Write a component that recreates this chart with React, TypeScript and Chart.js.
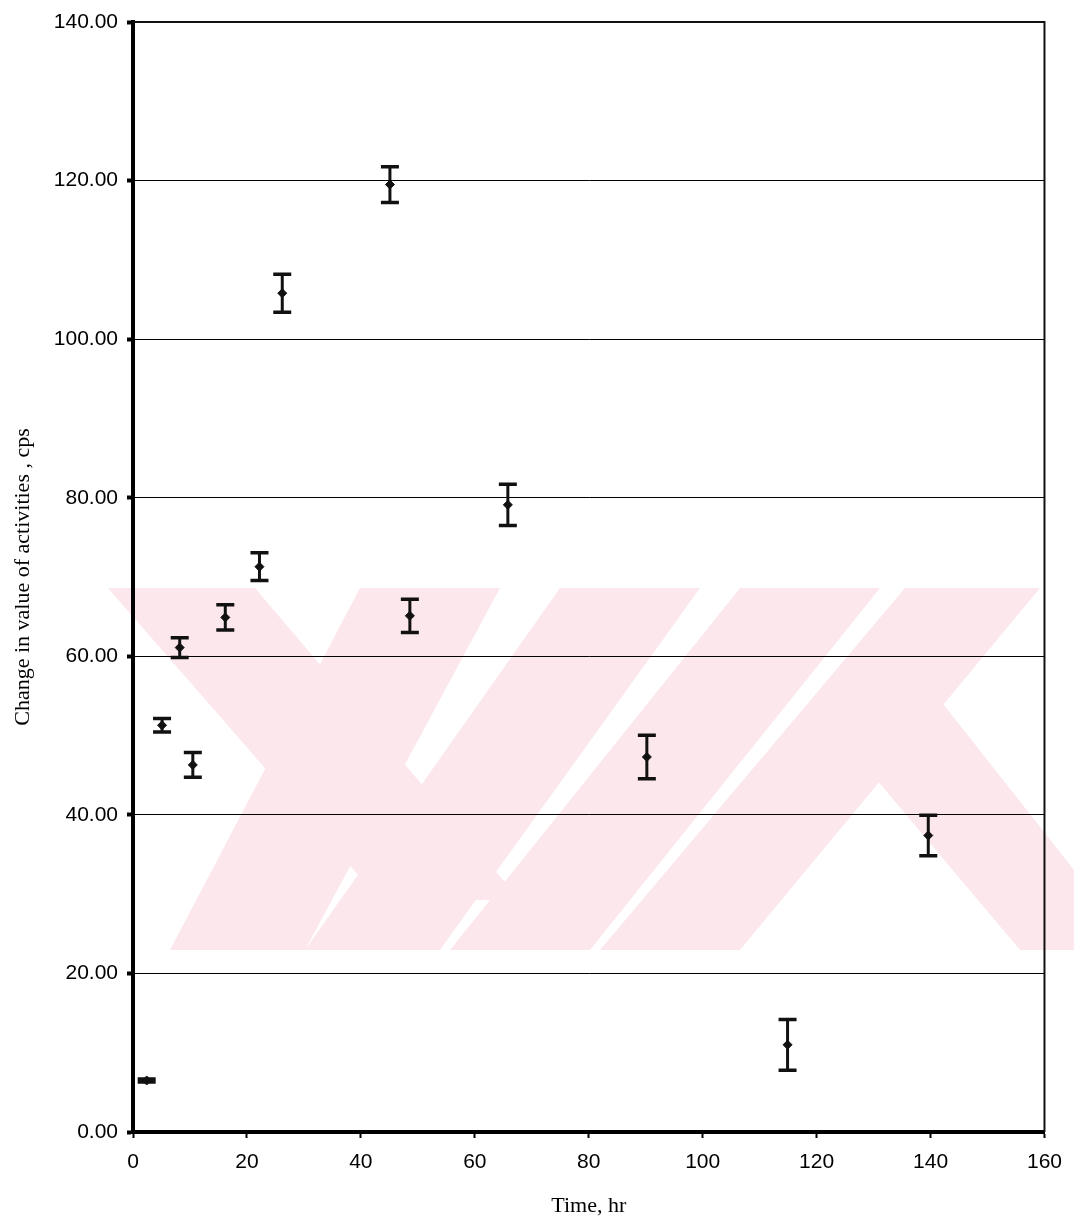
import React, { useEffect, useRef } from 'react';
import { Chart, registerables } from 'chart.js';

Chart.register(...registerables);

// Time (hr)
const timeHr = [2.4, 5.1, 8.2, 10.5, 16.2, 22.2, 26.2, 45.1, 48.6, 65.8, 90.2, 114.9, 139.6];
// Change in value of activities (cps)
const activity = [6.5, 51.3, 61.1, 46.3, 64.9, 71.3, 105.8, 119.5, 65.1, 79.1, 47.3, 11.0, 37.4];
// Error (+/-)
const activityErr = [0.2, 0.85, 1.25, 1.55, 1.6, 1.75, 2.4, 2.25, 2.1, 2.6, 2.75, 3.2, 2.55];

const xTicks = [0, 20, 40, 60, 80, 100, 120, 140, 160];
const yTicks = [0, 20, 40, 60, 80, 100, 120, 140];

const xTitle = 'Time, hr';
const yTitle = 'Change in value of activities , cps';

// decorative background watermark (canvas pixel polygons)
const watermarkPolys: number[][][] = [
  [[108, 588], [255, 588], [520, 900], [380, 900]],
  [[360, 588], [500, 588], [305, 950], [170, 950]],
  [[560, 588], [700, 588], [440, 950], [305, 950]],
  [[740, 588], [880, 588], [590, 950], [450, 950]],
  [[905, 588], [1040, 588], [740, 950], [600, 950]],
  [[860, 760], [940, 700], [1074, 870], [1074, 950], [1020, 950]],
];

export default function App() {
  const ref = useRef<HTMLCanvasElement | null>(null);

  useEffect(() => {
    if (!ref.current) return;

    const background = {
      id: 'background',
      beforeDraw(chart: any) {
        const ctx = chart.ctx;
        ctx.save();
        ctx.fillStyle = '#ffffff';
        ctx.fillRect(0, 0, chart.width, chart.height);
        ctx.fillStyle = '#fce8ec';
        for (const poly of watermarkPolys) {
          ctx.beginPath();
          poly.forEach((p, i) => (i === 0 ? ctx.moveTo(p[0], p[1]) : ctx.lineTo(p[0], p[1])));
          ctx.closePath();
          ctx.fill();
        }
        ctx.restore();
      },
    };

    const frame = {
      id: 'frame',
      afterDraw(chart: any) {
        const { ctx, chartArea } = chart;
        ctx.save();
        ctx.strokeStyle = '#111';
        ctx.lineWidth = 2;
        ctx.beginPath();
        ctx.moveTo(chartArea.left, chartArea.top);
        ctx.lineTo(chartArea.right, chartArea.top);
        ctx.lineTo(chartArea.right, chartArea.bottom);
        ctx.stroke();
        ctx.restore();
      },
    };

    const errorBars = {
      id: 'errorBars',
      beforeDatasetsDraw(chart: any) {
        const { ctx } = chart;
        const xs = chart.scales.x;
        const ys = chart.scales.y;
        ctx.save();
        ctx.strokeStyle = '#111';
        ctx.lineCap = 'butt';
        for (let i = 0; i < timeHr.length; i++) {
          const px = xs.getPixelForValue(timeHr[i]);
          const top = ys.getPixelForValue(activity[i] + activityErr[i]);
          const bot = ys.getPixelForValue(activity[i] - activityErr[i]);
          ctx.lineWidth = 3;
          ctx.beginPath();
          ctx.moveTo(px, top);
          ctx.lineTo(px, bot);
          ctx.stroke();
          ctx.lineWidth = 3.5;
          ctx.beginPath();
          ctx.moveTo(px - 9, top);
          ctx.lineTo(px + 9, top);
          ctx.moveTo(px - 9, bot);
          ctx.lineTo(px + 9, bot);
          ctx.stroke();
        }
        ctx.restore();
      },
    };

    const chart = new Chart(ref.current, {
      type: 'scatter',
      data: {
        datasets: [
          {
            data: timeHr.map((x, i) => ({ x, y: activity[i] })),
            pointStyle: 'rectRot',
            pointRadius: 4.5,
            backgroundColor: '#111',
            borderColor: '#111',
            borderWidth: 1,
          },
        ],
      },
      options: {
        animation: false,
        responsive: false,
        events: [],
        layout: { padding: { top: 22, right: 26, left: 0, bottom: 0 } },
        plugins: { legend: { display: false }, tooltip: { enabled: false } },
        scales: {
          x: {
            type: 'linear',
            min: 0,
            max: 160,
            afterBuildTicks: (s: any) => {
              s.ticks = xTicks.map((v) => ({ value: v }));
            },
            afterFit: (s: any) => {
              s.height = 91;
            },
            ticks: {
              color: '#000',
              font: { family: '"Liberation Sans", Arial, sans-serif', size: 21 },
              padding: 12,
              maxRotation: 0,
              callback: (v: any) => String(v),
            },
            grid: {
              drawOnChartArea: false,
              drawTicks: true,
              tickLength: 6,
              tickWidth: 2,
              tickColor: '#000',
            },
            border: { display: true, color: '#000', width: 4 },
            title: {
              display: true,
              text: xTitle,
              color: '#000',
              font: { family: '"Liberation Serif", "Times New Roman", serif', size: 22 },
              padding: { top: 0, bottom: 4 },
            },
          },
          y: {
            type: 'linear',
            min: 0,
            max: 140,
            afterBuildTicks: (s: any) => {
              s.ticks = yTicks.map((v) => ({ value: v }));
            },
            afterFit: (s: any) => {
              s.width = 133;
            },
            ticks: {
              color: '#000',
              font: { family: '"Liberation Sans", Arial, sans-serif', size: 21 },
              padding: 9,
              callback: (v: any) => Number(v).toFixed(2),
            },
            grid: {
              color: '#000',
              lineWidth: 1,
              drawTicks: true,
              tickLength: 6,
              tickWidth: 4,
              tickColor: '#000',
            },
            border: { display: true, color: '#000', width: 4 },
            title: {
              display: true,
              text: yTitle,
              color: '#000',
              font: { family: '"Liberation Serif", "Times New Roman", serif', size: 22 },
              padding: { top: 10, bottom: 0 },
            },
          },
        },
      },
      plugins: [background, errorBars, frame],
    });

    return () => chart.destroy();
  }, []);

  return (
    <div style={{ position: 'absolute', left: 0, top: 0, width: 1074, height: 1223, background: '#fff' }}>
      <canvas ref={ref} width={1074} height={1223} style={{ display: 'block' }} />
    </div>
  );
}
